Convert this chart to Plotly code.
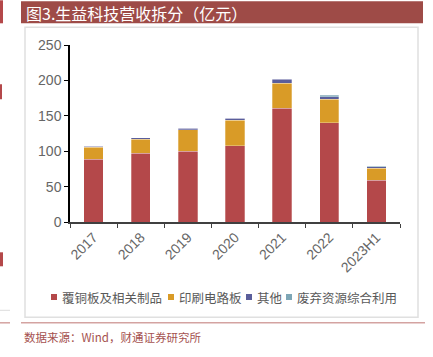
import plotly.graph_objects as go

categories = ["2017", "2018", "2019", "2020", "2021", "2022", "2023H1"]
ccl = [88.6, 97.0, 100.0, 107.4, 161.0, 140.0, 59.3]
pcb = [17.0, 19.8, 30.0, 36.6, 35.3, 33.6, 16.5]
other = [1.5, 2.2, 2.3, 2.5, 5.6, 3.0, 2.5]
waste = [0.0, 0.0, 0.0, 0.0, 0.6, 2.6, 0.3]
series_names = ["覆铜板及相关制品", "印刷电路板", "其他", "废弃资源综合利用"]
colors = ["#B4484A", "#D99B27", "#5A5E9B", "#7DA6B6"]
y_ticks = [0, 50, 100, 150, 200, 250]

W, H = 433, 357
PL, PR, PT, PB = 70, 400, 44.7, 221.7  # page coords of plot area

def px(x):
    return (x - PL) / (PR - PL)

def py(y):
    return (PB - y) / (PB - PT)

fig = go.Figure()
for name, vals, col in zip(series_names, [ccl, pcb, other, waste], colors):
    fig.add_trace(go.Bar(
        x=categories, y=vals, name=name, showlegend=False,
        marker=dict(color=col, line=dict(color="rgba(255,255,255,0.35)", width=0.8)),
    ))

shapes = []
def rect(x0, y0, x1, y1, layer="below", **kw):
    shapes.append(dict(type="rect", xref="paper", yref="paper",
                       x0=px(x0), x1=px(x1), y0=py(y0), y1=py(y1), layer=layer, **kw))

def line(x0, y0, x1, y1, color, width):
    shapes.append(dict(type="line", xref="paper", yref="paper",
                       x0=px(x0), x1=px(x1), y0=py(y0), y1=py(y1),
                       line=dict(color=color, width=width)))

# title banner
rect(21, 1, 423, 23, fillcolor="#9E4B47", line=dict(width=0))
# chart frame
rect(25, 27, 418, 317, fillcolor="rgba(0,0,0,0)", line=dict(color="#E0E0E0", width=1.5))
# source separator
line(21, 322.5, 425, 322.5, "#D4A3A1", 1.5)
# left page artifacts
rect(-1, 0, 3, 23, fillcolor="#B4484A", line=dict(width=0))
rect(-1, 84, 2, 99, fillcolor="#B4484A", line=dict(width=0))
rect(-1, 252, 3, 266, fillcolor="#B4484A", line=dict(width=0))
line(-1, 310, 10, 310, "#DDDDDD", 1)
line(-1, 322.5, 10, 322.5, "#D4A3A1", 1.5)

annotations = [
    dict(text="图3.生益科技营收拆分（亿元）", xref="paper", yref="paper",
         x=px(24), y=py(12.5), xanchor="left", yanchor="middle", showarrow=False,
         font=dict(family="Noto Sans CJK SC", size=16, color="white")),
    dict(text="数据来源：Wind，财通证券研究所", xref="paper", yref="paper",
         x=px(22), y=py(337), xanchor="left", yanchor="middle", showarrow=False,
         font=dict(family="Noto Sans CJK SC", size=11.5, color="#A5524F")),
]

# manual legend (squares + text)
legend_sq_x = [51, 168, 246, 286]
legend_y = 296.7
for name, col, sx in zip(series_names, colors, legend_sq_x):
    rect(sx, legend_y - 3, sx + 6, legend_y + 3, layer="above",
         fillcolor=col, line=dict(width=0))
    annotations.append(dict(text=name, xref="paper", yref="paper",
                            x=px(sx + 8.5), y=py(legend_y), xanchor="left", yanchor="middle",
                            showarrow=False,
                            font=dict(family="Noto Sans CJK SC", size=12.5, color="#595959")))

fig.update_layout(
    width=W, height=H,
    margin=dict(l=PL, r=W - PR, t=PT, b=H - PB, autoexpand=False),
    paper_bgcolor="white", plot_bgcolor="white",
    barmode="stack", bargap=0.59,
    showlegend=False,
    shapes=shapes, annotations=annotations,
    font=dict(family="Liberation Sans", color="#595959"),
)
fig.update_yaxes(range=[0, 250], tickvals=y_ticks, showgrid=False, zeroline=False,
                 showline=True, linecolor="#000000", linewidth=1.5,
                 ticks="outside", ticklen=4, tickcolor="#000000", automargin=False,
                 tickfont=dict(family="Liberation Sans", size=14, color="#666666"))
fig.update_xaxes(showgrid=False, showline=True, linecolor="#404040", linewidth=1.5,
                 ticks="outside", ticklen=4, tickcolor="#404040", tickson="boundaries",
                 tickangle=-45, automargin=False,
                 tickfont=dict(family="Liberation Sans", size=14, color="#666666"))

fig.write_html("out.html", config={"displayModeBar": False},
               post_script="document.body.style.margin='0';document.body.style.overflow='hidden';")
